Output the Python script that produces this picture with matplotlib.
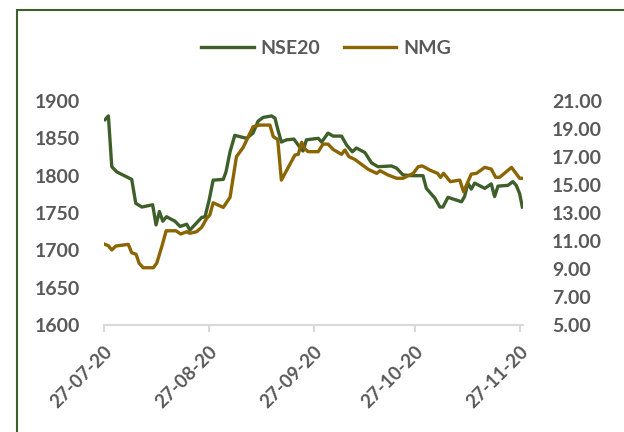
import matplotlib
matplotlib.use("Agg")
import matplotlib.pyplot as plt
from matplotlib.patches import Rectangle

# Day offsets from 27-07-20
nse_day = [0.3, 1.3, 2.3, 3.8, 8.2, 9.4, 11.2, 14.4, 15.4, 16.4, 17.4, 18.5, 21.0, 22.5, 24.5, 25.4,
           28.9, 29.9, 31.1, 32.3, 35.3, 36.1, 37.3, 38.7, 42.2, 44.1, 45.6, 47.1, 49.6, 50.6, 51.5,
           52.5, 54.0, 56.2, 57.8, 58.9, 59.9, 63.4, 64.4, 66.3, 67.8, 70.3, 71.8, 73.5, 74.7, 77.2,
           79.2, 81.1, 85.1, 86.6, 88.5, 91.0, 94.4, 95.4, 97.9, 99.4, 100.3, 101.8, 105.8, 106.7,
           107.7, 108.7, 109.7, 112.7, 114.6, 115.6, 116.6, 119.5, 121.0, 122.0, 123.0, 123.8]
nse_val = [1875, 1880, 1812, 1805, 1795, 1763, 1758, 1761, 1734, 1752, 1739, 1745, 1739, 1732, 1735, 1727,
           1744, 1745, 1767, 1794, 1795, 1805, 1832, 1854, 1850, 1857, 1873, 1878, 1880, 1877, 1861,
           1845, 1848, 1849, 1839, 1833, 1848, 1850, 1845, 1857, 1853, 1853, 1841, 1832, 1837, 1831,
           1817, 1812, 1813, 1810, 1801, 1800, 1800, 1783, 1770, 1758, 1758, 1771, 1765, 1772,
           1790, 1782, 1790, 1783, 1789, 1772, 1786, 1787, 1792, 1787, 1776, 1758]

nmg_day = [0.3, 1.3, 2.3, 3.5, 7.2, 8.2, 9.5, 10.4, 11.6, 14.6, 15.6, 17.1, 18.4, 21.3, 22.7, 24.5,
           25.4, 27.4, 28.9, 30.4, 31.3, 32.3, 35.3, 37.3, 39.2, 41.2, 44.1, 46.1, 49.1, 50.1, 51.4,
           52.5, 56.5, 57.5, 58.5, 59.4, 60.4, 63.4, 64.8, 66.3, 67.8, 70.3, 71.3, 72.5, 74.2, 78.2,
           80.7, 81.7, 84.1, 86.6, 88.5, 91.5, 93.0, 94.2, 96.4, 98.7, 99.6, 100.5, 102.5, 105.3,
           106.4, 108.7, 110.2, 112.7, 114.6, 115.9, 117.1, 120.6, 123.0, 123.8]
nmg_val = [10.76, 10.66, 10.36, 10.64, 10.76, 10.16, 10.05, 9.41, 9.09, 9.09, 9.41, 10.6, 11.73, 11.73, 11.5, 11.66,
           11.55, 11.66, 11.98, 12.62, 12.85, 13.73, 13.4, 14.12, 17.02, 17.69, 19.16, 19.28, 19.28, 18.45, 18.26,
           15.35, 17.14, 17.19, 18.05, 17.6, 17.38, 17.38, 17.92, 17.92, 17.54, 17.19, 17.5, 17.02, 16.83, 16.12,
           15.83, 16.02, 15.71, 15.48, 15.48, 15.83, 16.31, 16.36, 16.07, 15.83, 15.55, 15.83, 15.24, 15.35,
           14.52, 15.78, 15.83, 16.26, 16.14, 15.55, 15.55, 16.26, 15.48, 15.48]

tick_days = [0, 31, 62, 92, 123]
tick_labels = ['27-07-20', '27-08-20', '27-09-20', '27-10-20', '27-11-20']
left_ticks = [1600, 1650, 1700, 1750, 1800, 1850, 1900]
right_ticks = [5, 7, 9, 11, 13, 15, 17, 19, 21]

GREEN = '#3e5f2a'
GOLD = '#8a6502'
TXT = '#595959'
FONT = 'Lato'

fig = plt.figure(figsize=(6.24, 4.32), dpi=100)
fig.patches.append(Rectangle((17/624, -0.1), 1.2, 1.1 - 10/432, transform=fig.transFigure,
                             fill=False, edgecolor=GREEN, linewidth=1.5))

ax = fig.add_axes([104/624, 1 - 325/432, (523 - 104)/624, (325 - 101)/432])
ax2 = ax.twinx()

l1, = ax.plot(nse_day, nse_val, color=GREEN, lw=2.4, label='NSE20', solid_joinstyle='round')
l2, = ax2.plot(nmg_day, nmg_val, color=GOLD, lw=2.4, label='NMG', solid_joinstyle='round')

ax.set_xlim(0, 124)
ax.set_ylim(1600, 1900)
ax2.set_ylim(5, 21)
ax.set_yticks(left_ticks)
ax.set_yticklabels([str(v) for v in left_ticks], fontfamily=FONT, fontweight='bold', fontsize=14, color=TXT)
ax2.set_yticks(right_ticks)
ax2.set_yticklabels([f'{v:.2f}' for v in right_ticks], fontfamily=FONT, fontweight='bold', fontsize=14, color=TXT)
ax.set_xticks(tick_days)
ax.set_xticklabels(tick_labels, rotation=45, ha='right', rotation_mode='anchor',
                   fontfamily=FONT, fontweight='bold', fontsize=13.5, color=TXT)

for a in (ax, ax2):
    for s in ('top', 'left', 'right', 'bottom'):
        a.spines[s].set_visible(False)
ax.spines['bottom'].set_visible(True)
ax.spines['bottom'].set_color('#d9d9d9')
ax.spines['bottom'].set_linewidth(1.5)
ax.tick_params(axis='x', length=5, width=1.5, color='#d9d9d9', pad=8)
ax.tick_params(axis='y', length=0, pad=17)
ax2.tick_params(axis='y', length=0, pad=21)

leg = fig.legend([l1, l2], ['NSE20', 'NMG'], loc='center', bbox_to_anchor=(326/624, 1 - 48/432),
                 ncol=2, frameon=False, handlelength=2.7, columnspacing=1.2, handletextpad=0.35,
                 prop={'family': FONT, 'weight': 'bold', 'size': 14})
for t in leg.get_texts():
    t.set_color(TXT)

fig.savefig('out.png', dpi=100)
